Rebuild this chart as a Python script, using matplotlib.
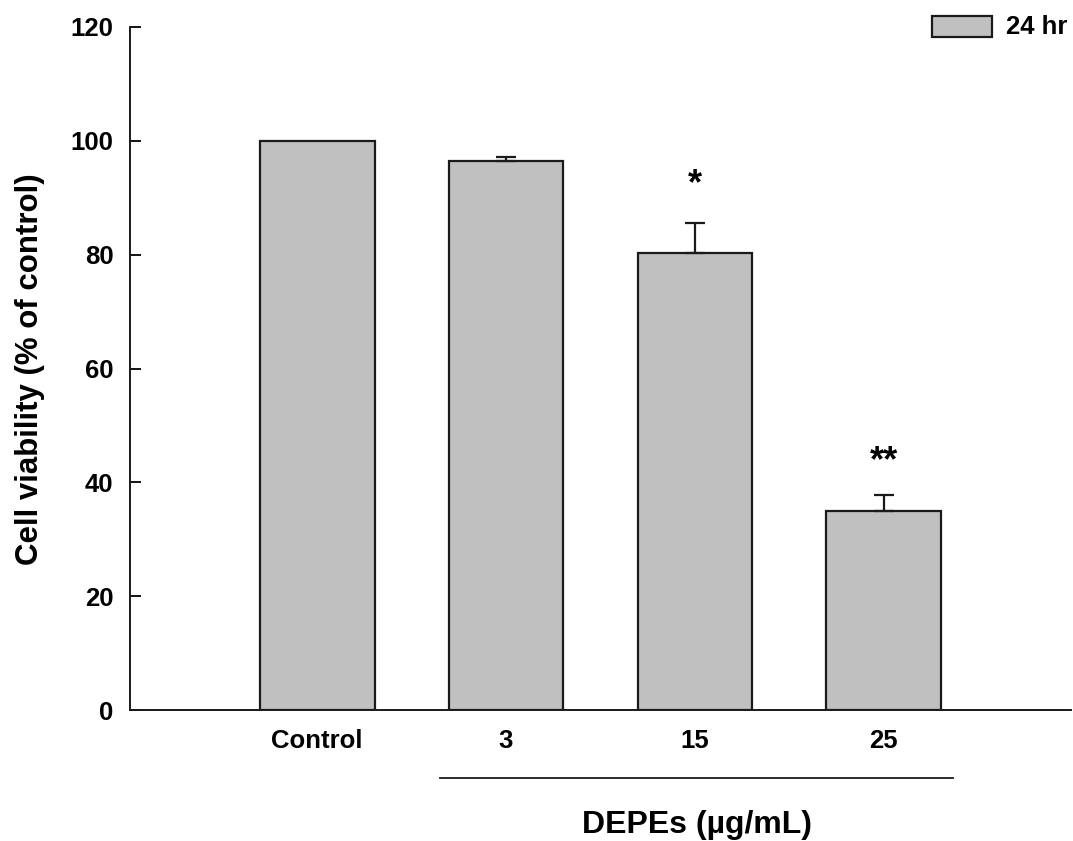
import matplotlib
matplotlib.use("Agg")
import matplotlib.pyplot as plt
from matplotlib.patches import Rectangle
from matplotlib.lines import Line2D

categories = ["Control", "3", "15", "25"]
values = [100.0, 96.5, 80.3, 35.0]
errors = [0.0, 0.7, 5.3, 2.8]
stars = ["", "", "*", "**"]
star_y = [0, 0, 92.3, 43.6]
yticks = [0, 20, 40, 60, 80, 100, 120]

plt.rcParams['font.family'] = ['Liberation Sans', 'DejaVu Sans']
plt.rcParams['font.weight'] = 'bold'

fig = plt.figure(figsize=(10.73, 8.41), dpi=100)
W, H = 1073, 841
ax = fig.add_axes([130 / W, 1 - 710 / H, (1071 - 130) / W, (710 - 27) / H])

x = list(range(len(categories)))
ax.bar(x, values, width=0.608, color='#c0c0c0', edgecolor='#1a1a1a', linewidth=1.6, zorder=2)
ax.errorbar(x[1:], values[1:], yerr=[[0] * 3, errors[1:]], fmt='none', ecolor='#1a1a1a',
            elinewidth=1.6, capsize=7.5, capthick=1.6, zorder=3)
for xi, s, sy in zip(x, stars, star_y):
    if s:
        ax.text(xi, sy, s, ha='center', va='center', fontsize=26, fontweight='bold')

ax.set_xlim(-0.99, 3.99)
ax.set_ylim(0, 120)
ax.set_yticks(yticks)
ax.set_yticklabels([str(t) for t in yticks], fontsize=18.5, fontweight='bold')
ax.set_xticks(x)
ax.set_xticklabels(categories, fontsize=18.5, fontweight='bold')
ax.tick_params(axis='y', direction='in', length=8, width=1.3, pad=12)
ax.tick_params(axis='x', length=0, pad=14)
ax.spines['top'].set_visible(False)
ax.spines['right'].set_visible(False)
for s in ['left', 'bottom']:
    ax.spines[s].set_linewidth(1.4)
    ax.spines[s].set_color('#1a1a1a')

fig.text(30 / W, 1 - 369 / H, "Cell viability (% of control)", rotation=90, ha='center', va='center',
         fontsize=22.5, fontweight='bold')

fig.add_artist(Line2D([440 / W, 953 / W], [1 - 778 / H, 1 - 778 / H], color='#1a1a1a', lw=1.3))
fig.text(697 / W, 1 - 825 / H, "DEPEs (µg/mL)", ha='center', va='center', fontsize=23, fontweight='bold')

fig.add_artist(Rectangle((932 / W, 1 - 37 / H), 60 / W, 21 / H, facecolor='#c0c0c0',
                         edgecolor='#1a1a1a', lw=1.6, transform=fig.transFigure))
fig.text(1006 / W, 1 - 27 / H, "24 hr", ha='left', va='center', fontsize=18.5, fontweight='bold')

fig.savefig("out.png", dpi=100)
